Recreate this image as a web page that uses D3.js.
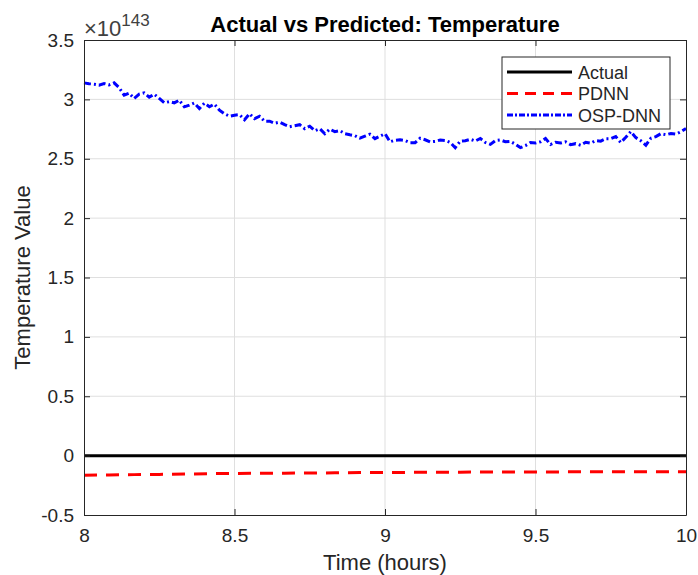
<!DOCTYPE html>
<html>
<head>
<meta charset="utf-8">
<script src="https://cdn.jsdelivr.net/npm/d3@7"></script>
<style>
  body { margin: 0; background: #fff; }
  text { font-family: "Liberation Sans", Arial, sans-serif; }
</style>
</head>
<body>
<div id="chart"></div>
<script>
// values are in units of 1e143
const seriesNames = ["Actual", "PDNN", "OSP-DNN"];
const xTicks = [8, 8.5, 9, 9.5, 10];
const yTicks = [-0.5, 0, 0.5, 1, 1.5, 2, 2.5, 3, 3.5];

// OSP-DNN, one reading per minute from 8:00 to 10:00
const ospValues = [
  3.139, 3.132, 3.128, 3.120, 3.134, 3.122, 3.139, 3.099, 3.035, 3.052,
  3.008, 3.044, 3.055, 3.019, 3.044, 3.008, 2.972, 2.981, 2.970, 2.993,
  2.937, 2.951, 2.970, 2.923, 2.968, 2.938, 2.960, 2.909, 2.879, 2.858,
  2.867, 2.871, 2.829, 2.879, 2.837, 2.858, 2.816, 2.816, 2.799, 2.808,
  2.787, 2.770, 2.778, 2.787, 2.753, 2.774, 2.736, 2.753, 2.711, 2.749,
  2.728, 2.736, 2.711, 2.702, 2.694, 2.673, 2.690, 2.707, 2.669, 2.690,
  2.711, 2.643, 2.656, 2.660, 2.653, 2.635, 2.635, 2.673, 2.660, 2.642,
  2.646, 2.658, 2.654, 2.637, 2.593, 2.648, 2.652, 2.664, 2.649, 2.671,
  2.637, 2.621, 2.653, 2.658, 2.643, 2.646, 2.622, 2.594, 2.611, 2.637,
  2.632, 2.643, 2.670, 2.620, 2.639, 2.632, 2.643, 2.618, 2.627, 2.614,
  2.639, 2.631, 2.653, 2.648, 2.669, 2.669, 2.686, 2.637, 2.681, 2.729,
  2.678, 2.651, 2.614, 2.673, 2.686, 2.711, 2.702, 2.713, 2.708, 2.728,
  2.755
];
const ospTimes = ospValues.map((d, i) => 8 + i / 60);

// PDNN and Actual, one reading every 5 minutes
const pdnnValues = [
  -0.165, -0.163, -0.160, -0.158, -0.155, -0.152, -0.150, -0.149, -0.148, -0.146,
  -0.145, -0.143, -0.142, -0.141, -0.140, -0.139, -0.138, -0.138, -0.137, -0.137,
  -0.136, -0.136, -0.135, -0.135, -0.135
];
const actualValues = pdnnValues.map(() => 0);
const slowTimes = pdnnValues.map((d, i) => 8 + i * 5 / 60);

const W = 698, H = 575;
const margin = {top: 40, right: 12, bottom: 60, left: 84};
const width = W - margin.left - margin.right,
      height = H - margin.top - margin.bottom;

const svg = d3.select("#chart").append("svg")
  .attr("width", W).attr("height", H);
const g = svg.append("g")
  .attr("transform", `translate(${margin.left},${margin.top})`);

const x = d3.scaleLinear().domain([8, 10]).range([0, width]);
const y = d3.scaleLinear().domain([-0.5, 3.5]).range([height, 0]);

// grid
g.append("g").selectAll("line").data(xTicks.slice(1, -1)).join("line")
  .attr("x1", d => x(d)).attr("x2", d => x(d))
  .attr("y1", 0).attr("y2", height)
  .attr("stroke", "#dfdfdf").attr("stroke-width", 1);
g.append("g").selectAll("line").data(yTicks.slice(1, -1)).join("line")
  .attr("y1", d => y(d)).attr("y2", d => y(d))
  .attr("x1", 0).attr("x2", width)
  .attr("stroke", "#dfdfdf").attr("stroke-width", 1);

// lines
const line = d3.line().x(d => x(d[0])).y(d => y(d[1]));

g.append("path")
  .datum(slowTimes.map((t, i) => [t, actualValues[i]]))
  .attr("fill", "none").attr("stroke", "#000").attr("stroke-width", 3)
  .attr("d", line);

g.append("path")
  .datum(slowTimes.map((t, i) => [t, pdnnValues[i]]))
  .attr("fill", "none").attr("stroke", "#ff0000").attr("stroke-width", 3)
  .attr("stroke-dasharray", "13,9")
  .attr("d", line);

g.append("path")
  .datum(ospTimes.map((t, i) => [t, ospValues[i]]))
  .attr("fill", "none").attr("stroke", "#0000ff").attr("stroke-width", 3)
  .attr("stroke-dasharray", "7,3,2,3")
  .attr("d", line);

// axes, matlab style box with inward ticks
const axisColor = "#262626";
const fmt = d => String(d);

const xAxis = g.append("g").attr("transform", `translate(0,${height})`)
  .call(d3.axisBottom(x).tickValues(xTicks).tickFormat(fmt).tickSizeInner(-6).tickSizeOuter(0).tickPadding(14));
const xTop = g.append("g")
  .call(d3.axisTop(x).tickValues(xTicks).tickFormat("").tickSizeInner(-6).tickSizeOuter(0));
const yAxis = g.append("g")
  .call(d3.axisLeft(y).tickValues(yTicks).tickFormat(fmt).tickSizeInner(-6).tickSizeOuter(0).tickPadding(10));
const yRight = g.append("g").attr("transform", `translate(${width},0)`)
  .call(d3.axisRight(y).tickValues(yTicks).tickFormat("").tickSizeInner(-6).tickSizeOuter(0));

[xAxis, xTop, yAxis, yRight].forEach(a => {
  a.select(".domain").attr("stroke", axisColor).attr("stroke-width", 1);
  a.selectAll(".tick line").attr("stroke", axisColor);
  a.selectAll(".tick text").attr("fill", axisColor).style("font-size", "19px");
});

// exponent label
const expo = g.append("text").attr("x", 0).attr("y", -4)
  .attr("fill", "#404040").style("font-size", "22px");
expo.append("tspan").text("\u00d710");
expo.append("tspan").attr("dy", -10).style("font-size", "17px").text("143");

// title and labels
svg.append("text").attr("x", margin.left + width / 2).attr("y", 32)
  .attr("text-anchor", "middle").style("font-size", "22px").style("font-weight", "bold")
  .attr("fill", "#000").text("Actual vs Predicted: Temperature");

svg.append("text").attr("x", margin.left + width / 2).attr("y", 570)
  .attr("text-anchor", "middle").style("font-size", "22px").attr("fill", axisColor)
  .text("Time (hours)");

svg.append("text")
  .attr("transform", `translate(30,${margin.top + height / 2}) rotate(-90)`)
  .attr("text-anchor", "middle").style("font-size", "22px").attr("fill", axisColor)
  .text("Temperature Value");

// legend
const legend = svg.append("g").attr("transform", "translate(502,57)");
legend.append("rect").attr("width", 168).attr("height", 72)
  .attr("fill", "#fff").attr("stroke", axisColor).attr("stroke-width", 1);
const legStyles = [
  {color: "#000", dash: null},
  {color: "#ff0000", dash: "11,7"},
  {color: "#0000ff", dash: "6,2,2,2"}
];
seriesNames.forEach((name, i) => {
  const ly = 15 + i * 21.5;
  legend.append("line").attr("x1", 5).attr("x2", 70).attr("y1", ly).attr("y2", ly)
    .attr("stroke", legStyles[i].color).attr("stroke-width", 3)
    .attr("stroke-dasharray", legStyles[i].dash);
  legend.append("text").attr("x", 76).attr("y", ly + 6.5)
    .style("font-size", "18px").attr("fill", axisColor).text(name);
});
</script>
</body>
</html>
